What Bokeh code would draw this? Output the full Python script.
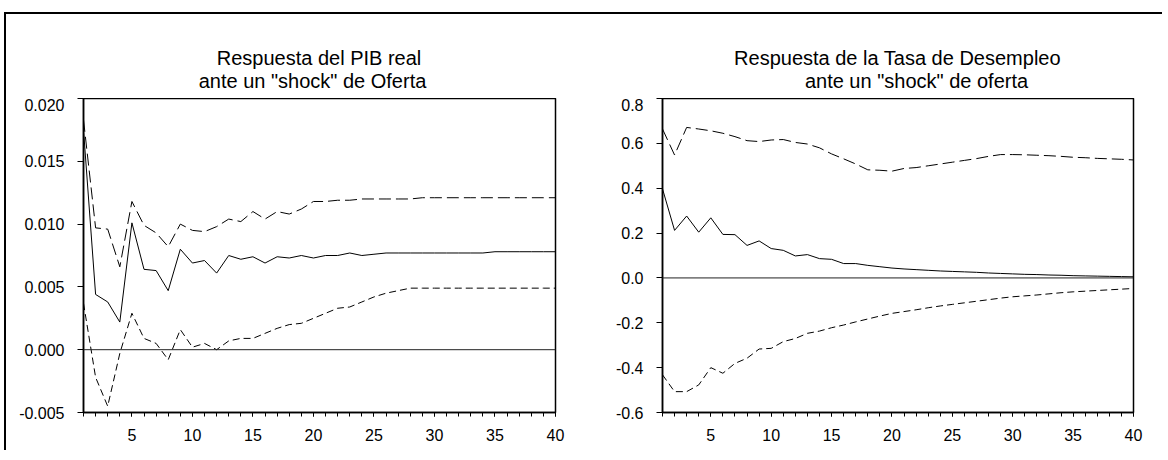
from bokeh.plotting import figure
from bokeh.layouts import row, column
from bokeh.models import FixedTicker, NumeralTickFormatter, Span, Range1d
from bokeh.embed import file_html
from bokeh.resources import INLINE
from bokeh.core.properties import value

# ---------------- data ----------------
periods = list(range(1, 41))
x_tick_labels = [5, 10, 15, 20, 25, 30, 35, 40]

pib_resp = [0.0175, 0.0044, 0.0038, 0.0022, 0.0101, 0.0064, 0.0063, 0.0047, 0.0080, 0.0069,
            0.0071, 0.0061, 0.0075, 0.0072, 0.0074, 0.0069, 0.0074, 0.0073, 0.0075, 0.0073,
            0.0075, 0.0075, 0.0077, 0.0075, 0.0076, 0.0077, 0.0077, 0.0077, 0.0077, 0.0077,
            0.0077, 0.0077, 0.0077, 0.0077, 0.0078, 0.0078, 0.0078, 0.0078, 0.0078, 0.0078]
pib_upper = [0.0183, 0.0097, 0.0096, 0.0066, 0.0118, 0.0099, 0.0093, 0.0082, 0.0100, 0.0095,
             0.0094, 0.0098, 0.0104, 0.0102, 0.0110, 0.0104, 0.0110, 0.0108, 0.0112, 0.0118,
             0.0118, 0.0119, 0.0119, 0.0120, 0.0120, 0.0120, 0.0120, 0.0120, 0.0121, 0.0121,
             0.0121, 0.0121, 0.0121, 0.0121, 0.0121, 0.0121, 0.0121, 0.0121, 0.0121, 0.0121]
pib_lower = [0.0037, -0.0022, -0.0045, -0.0003, 0.0029, 0.0009, 0.0005, -0.0008, 0.0016, 0.0002,
             0.0005, 0.0000, 0.0007, 0.0009, 0.0009, 0.0013, 0.0017, 0.0020, 0.0021, 0.0025,
             0.0029, 0.0033, 0.0034, 0.0038, 0.0042, 0.0045, 0.0047, 0.0049, 0.0049, 0.0049,
             0.0049, 0.0049, 0.0049, 0.0049, 0.0049, 0.0049, 0.0049, 0.0049, 0.0049, 0.0049]
pib_yticks = [-0.005, 0.0, 0.005, 0.010, 0.015, 0.020]

des_resp = [0.397, 0.212, 0.276, 0.204, 0.268, 0.194, 0.193, 0.145, 0.165, 0.131,
            0.123, 0.098, 0.104, 0.086, 0.083, 0.064, 0.064, 0.056, 0.050, 0.044,
            0.040, 0.037, 0.034, 0.031, 0.029, 0.027, 0.025, 0.022, 0.020, 0.018,
            0.016, 0.015, 0.013, 0.012, 0.010, 0.009, 0.008, 0.007, 0.006, 0.005]
des_upper = [0.664, 0.548, 0.671, 0.664, 0.656, 0.645, 0.630, 0.612, 0.608, 0.615,
             0.617, 0.604, 0.597, 0.580, 0.553, 0.531, 0.508, 0.482, 0.480, 0.476,
             0.488, 0.492, 0.500, 0.508, 0.516, 0.524, 0.532, 0.542, 0.550, 0.550,
             0.549, 0.547, 0.545, 0.542, 0.538, 0.536, 0.533, 0.531, 0.529, 0.526]
des_lower = [-0.432, -0.507, -0.507, -0.477, -0.400, -0.425, -0.381, -0.358, -0.317, -0.314,
             -0.284, -0.270, -0.247, -0.237, -0.222, -0.210, -0.196, -0.183, -0.170, -0.158,
             -0.150, -0.142, -0.133, -0.125, -0.118, -0.111, -0.104, -0.097, -0.090, -0.084,
             -0.080, -0.076, -0.071, -0.066, -0.062, -0.059, -0.056, -0.053, -0.050, -0.047]
des_yticks = [-0.6, -0.4, -0.2, 0.0, 0.2, 0.4, 0.6, 0.8]

FONT = "Liberation Sans"
TITLE_H = 84


def make_title(lines, border_left, border_right, frame_w):
    # lines: list of (text, center x in px from frame left, baseline px above bottom)
    t = figure(output_backend="svg", toolbar_location=None,
               frame_width=frame_w, frame_height=TITLE_H,
               min_border_left=border_left, min_border_right=border_right,
               min_border_top=0, min_border_bottom=0,
               x_range=Range1d(0, frame_w), y_range=Range1d(0, TITLE_H))
    t.axis.visible = False
    t.grid.visible = False
    t.outline_line_color = None
    t.border_fill_color = "white"
    t.text(x=[l[1] for l in lines], y=[l[2] for l in lines], text=[l[0] for l in lines],
           text_align="center", text_baseline="alphabetic",
           text_font=value(FONT), text_font_size="20px", text_color="black")
    return t


def make_panel(resp, upper, lower, yticks, yfmt, border_left, border_right, frame_w,
               label_standoff):
    p = figure(output_backend="svg", toolbar_location=None,
               frame_width=frame_w, frame_height=314,
               min_border_left=border_left, min_border_right=border_right,
               min_border_top=0, min_border_bottom=38,
               x_range=Range1d(1, 40), y_range=Range1d(yticks[0], yticks[-1]))
    p.xgrid.visible = False
    p.ygrid.visible = False
    p.outline_line_color = "black"
    p.outline_line_width = 1.5
    p.background_fill_color = "white"
    p.border_fill_color = "white"

    p.add_layout(Span(location=0, dimension="width", line_color="#222222", line_width=1))
    p.line(periods, upper, line_color="black", line_width=1, line_dash="12 5")
    p.line(periods, resp, line_color="black", line_width=1)
    p.line(periods, lower, line_color="black", line_width=1, line_dash="7 4")

    xa = p.xaxis[0]
    xa.ticker = FixedTicker(ticks=x_tick_labels, minor_ticks=periods)
    xa.major_tick_in = 0
    xa.major_tick_out = 4
    xa.minor_tick_in = 0
    xa.minor_tick_out = 4
    xa.axis_line_width = 1.5
    xa.major_label_standoff = 12
    xa.major_label_text_font = FONT
    xa.major_label_text_font_size = "16px"
    xa.major_label_text_color = "black"

    ya = p.yaxis[0]
    ya.ticker = FixedTicker(ticks=yticks)
    ya.formatter = NumeralTickFormatter(format=yfmt)
    ya.major_tick_in = 0
    ya.major_tick_out = 6
    ya.minor_tick_line_color = None
    ya.axis_line_width = 1.5
    ya.major_label_standoff = label_standoff
    ya.major_label_text_font = FONT
    ya.major_label_text_font_size = "16px"
    ya.major_label_text_color = "black"
    return p


t1 = make_title([("Respuesta del PIB real", 235.5, 41),
                 ('ante un "shock" de Oferta', 229, 18)], 77, 25, 472)
p1 = make_panel(pib_resp, pib_upper, pib_lower, pib_yticks, "0.000", 77, 25, 472, 13)
t2 = make_title([("Respuesta de la Tasa de Desempleo", 235, 41),
                 ('ante un "shock" de oferta', 254, 18)], 82, 29, 471)
p2 = make_panel(des_resp, des_upper, des_lower, des_yticks, "0.0", 82, 29, 471, 13)

layout = row(column(t1, p1, spacing=0), column(t2, p2, spacing=0), spacing=0,
             styles={"border-top": "2px solid black", "border-left": "2px solid black",
                     "margin-left": "4px", "margin-top": "12px"})

open("out.html", "w").write(file_html(layout, INLINE))
